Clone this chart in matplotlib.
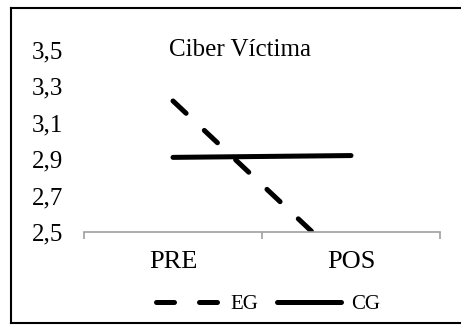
import matplotlib.pyplot as plt
from matplotlib.lines import Line2D

# datos
momentos = ["PRE", "POS"]
eg = [3.22, 2.30]
cg = [2.91, 2.92]
yticks = [2.5, 2.7, 2.9, 3.1, 3.3, 3.5]
titulo = "Ciber Víctima"

plt.rcParams['font.family'] = ['Liberation Serif', 'DejaVu Serif']

fig = plt.figure(figsize=(4.61, 3.25), dpi=100)
ax = fig.add_axes([84/461, 1-232/325, 356/461, 182/325])

x = range(len(momentos))
ax.plot(x, eg, color='black', lw=3.6, linestyle=(0, (3.6, 5.0)),
        dash_capstyle='round', solid_capstyle='round', label='EG')
ax.plot(x, cg, color='black', lw=3.6, solid_capstyle='round', label='CG')

ax.set_xlim(-0.5, 1.5)
ax.set_ylim(2.5, 3.5)
ax.set_yticks(yticks)
ax.set_yticklabels([f"{v:.1f}".replace('.', ',') for v in yticks], fontsize=18)
ax.tick_params(axis='y', length=0, pad=15)

ax.set_xticks(list(x))
ax.set_xticklabels(momentos, fontsize=19)
ax.set_xticks([-0.5, 0.5, 1.5], minor=True)
ax.tick_params(axis='x', which='major', length=0, pad=14)
ax.tick_params(axis='x', which='minor', length=5, width=1.2, color='#a0a0a0')

for s in ['top', 'right', 'left']:
    ax.spines[s].set_visible(False)
ax.spines['bottom'].set_color('#a0a0a0')
ax.spines['bottom'].set_linewidth(1.2)

fig.text(240/461, 1-50/325, titulo, fontsize=18, ha='center', va='center')

fig.legend(loc='center', bbox_to_anchor=(268/461, 1-304/325), ncol=2,
           frameon=False, fontsize=15, handlelength=3.1, handletextpad=0.45,
           columnspacing=0.9)

# marco
borde = dict(color='black', lw=1.5, transform=fig.transFigure)
fig.add_artist(Line2D([11/461, 11/461], [1-8/325, 1-323/325], **borde))
fig.add_artist(Line2D([11/461, 1], [1-8/325, 1-8/325], **borde))
fig.add_artist(Line2D([11/461, 1], [1-323/325, 1-323/325], **borde))

fig.savefig("out.png", dpi=100)
